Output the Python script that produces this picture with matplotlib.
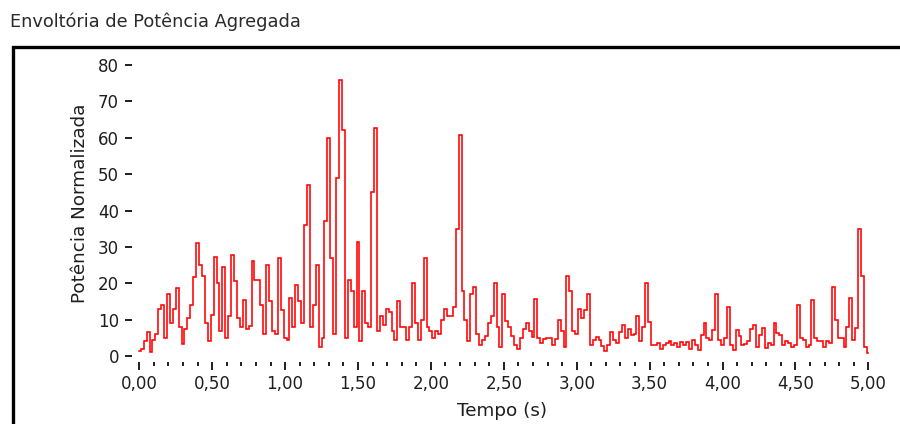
import numpy as np
import matplotlib
matplotlib.use("Agg")
import matplotlib.pyplot as plt
from matplotlib.patches import Rectangle
from matplotlib.ticker import FixedLocator, MultipleLocator

plt.rcParams["font.family"] = ["DejaVu Sans"]

title = "Envoltória de Potência Agregada"
x_label = "Tempo (s)"
y_label = "Potência Normalizada"

# aggregated power envelope, one value every 20 ms from 0 to 5 s
sample_step = 0.02
power = [
    1.4, 2, 4, 6.5, 1, 4.5, 6, 13, 14, 5,
    17, 9, 12.8, 18.7, 8, 3.2, 7.5, 10.5, 14, 21.8,
    31, 25, 22, 9, 4, 11.4, 27.3, 20, 7, 24.6,
    5, 11, 27.8, 20.7, 10.5, 8, 15.5, 7.3, 8.3, 26,
    21, 21, 14, 6, 25, 15, 7, 6, 27, 12.6,
    5, 4.5, 16, 8, 19.5, 15, 9, 36, 47, 8,
    14, 25, 2.6, 5, 37, 60, 27, 6, 49, 76,
    62, 5, 21, 18, 8, 31.4, 4, 18, 9, 8,
    45, 62.7, 7, 11, 8.5, 13, 12, 7, 4.5, 15,
    8, 8, 4.4, 8, 20, 9, 4.4, 10, 27, 8,
    7, 5, 7, 6, 10, 13, 11, 11, 13.5, 35,
    60.7, 18, 10, 4, 17, 19, 6, 3, 4.5, 5.5,
    9, 11, 20, 8, 2.6, 17, 9.5, 8, 5.5, 3,
    2, 5, 7.5, 9, 7, 5.3, 15.8, 5, 3.5, 4.8,
    5, 5, 3, 4.8, 10, 7, 2.6, 22, 18, 7,
    6, 13, 10.5, 12.6, 17, 3, 4.5, 5.3, 4.4, 2.8,
    1.5, 3, 6.5, 4.5, 3.5, 6.6, 8.5, 5, 7.5, 5.7,
    6, 11, 4, 8, 20, 9.4, 3, 3, 3.5, 2,
    3, 3.5, 4, 3, 3.5, 2.6, 3.8, 3, 3.8, 2,
    4.4, 3, 1.6, 5.7, 9, 5, 4.5, 7.1, 17, 4.5,
    3, 5, 13.5, 3, 1.6, 7.1, 5.5, 3, 3.3, 4,
    7.5, 8.5, 2.6, 5.8, 7.6, 2.1, 3.5, 3, 9, 6.2,
    5.8, 3, 4, 3.5, 2.6, 3, 14, 5, 4.5, 2.5,
    3, 15.5, 5, 4, 4, 2.6, 4, 3.5, 19, 10,
    5, 5, 2.6, 8, 16, 4.5, 7.6, 35, 22, 2.6, 0.7,
]

x_ticks = [0.0, 0.5, 1.0, 1.5, 2.0, 2.5, 3.0, 3.5, 4.0, 4.5, 5.0]
x_tick_labels = ["0,00", "0,50", "1,00", "1,50", "2,00", "2,50",
                 "3,00", "3,50", "4,00", "4,50", "5,00"]
y_ticks = [0, 10, 20, 30, 40, 50, 60, 70, 80]
y_tick_labels = ["0", "10", "20", "30", "40", "50", "60", "70", "80"]

W, H = 900, 424
fig = plt.figure(figsize=(W / 100, H / 100), dpi=100)
fig.patch.set_facecolor("white")

# plot area in pixel terms: x 139..868, y 65..356
left, right, top, bottom = 139.3, 868.3, 65.0, 356.0
ax = fig.add_axes([left / W, (H - bottom) / H, (right - left) / W, (bottom - top) / H])
ax.set_facecolor("white")

t = np.arange(len(power)) * sample_step
ax.plot(t, power, color="#ff0000", lw=1.15, drawstyle="steps-mid",
        clip_on=False, solid_joinstyle="miter")

ax.set_xlim(0, 5)
ax.set_ylim(0, 80)

for side in ["top", "right", "left", "bottom"]:
    ax.spines[side].set_visible(False)
ax.spines["left"].set_position(("outward", 5))
ax.spines["bottom"].set_position(("outward", 4))

ax.xaxis.set_major_locator(FixedLocator(x_ticks))
ax.set_xticklabels(x_tick_labels)
ax.xaxis.set_minor_locator(MultipleLocator(0.1))
ax.yaxis.set_major_locator(FixedLocator(y_ticks))
ax.set_yticklabels(y_tick_labels)

tick_color = "#1e1e1e"
ax.tick_params(axis="y", which="major", direction="out", length=5.2, width=1.4,
               color=tick_color, labelsize=12, labelcolor=tick_color, pad=4.5)
ax.tick_params(axis="x", which="major", direction="out", length=5.8, width=1.4,
               color=tick_color, labelsize=12, labelcolor=tick_color, pad=4)
ax.tick_params(axis="x", which="minor", direction="out", length=3.0, width=1.4,
               color=tick_color)

fig.text(80 / W, 1 - 203 / H, y_label, rotation=90, ha="center", va="center",
         fontsize=13.2, color=tick_color)
fig.text(502 / W, 1 - 411 / H, x_label, ha="center", va="center",
         fontsize=13.2, color=tick_color)

fig.text(10 / W, 1 - 22 / H, title, ha="left", va="center",
         fontsize=12.8, color="#2a2a2a")

# panel frame, running off the right and bottom edges
frame = Rectangle((12.5 / W, -0.2), 1.5, (H - 47) / H + 0.2,
                  transform=fig.transFigure, fill=False,
                  edgecolor="black", lw=2.4)
fig.add_artist(frame)

fig.savefig("out.png", dpi=100, facecolor=fig.get_facecolor())
